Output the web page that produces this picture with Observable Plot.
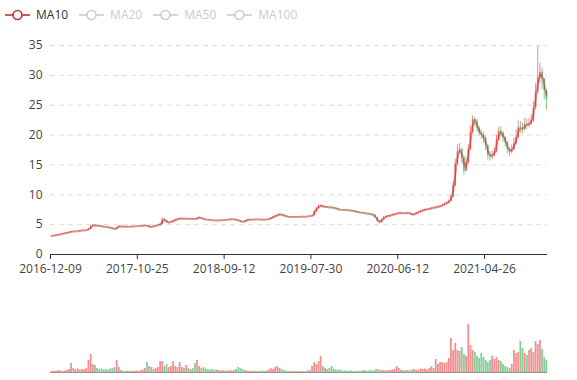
<!DOCTYPE html>
<html><head><meta charset="utf-8">
<script src="https://cdn.jsdelivr.net/npm/d3@7"></script>
<script src="https://cdn.jsdelivr.net/npm/@observablehq/plot@0.6"></script>
<style>
body{margin:0;background:#fff;font-family:"Open Sans",sans-serif;}
#wrap{position:relative;width:577px;height:380px;overflow:hidden;background:#fff}
#legend{position:absolute;left:5px;top:6px;height:18px;display:flex;gap:11px;font-size:12px;line-height:18px}
.item{display:flex;align-items:center;gap:6px}
#price{position:absolute;left:0;top:30px}
#vol{position:absolute;left:0;top:290px}
</style></head><body>
<div id="wrap"><div id="legend"></div><div id="price"></div><div id="vol"></div></div>
<script>
// ---- data (one entry ≈ one trading week) ----
const tickLabels = ["2016-12-09","2017-10-25","2018-09-12","2019-07-30","2020-06-12","2021-04-26"];
const tickEvery = 40;
const legendNames = ["MA10","MA20","MA50","MA100"];
const legendActive = [true,false,false,false];
const firstOpen = 3.05;
const closes = [
3.10,3.18,3.25,3.32,3.40,3.50,3.55,3.62,3.72,3.80,3.86,3.88,3.92,3.98,4.02,4.05,4.10,
4.25,4.70,4.90,4.82,4.80,4.75,4.70,4.62,4.58,4.52,4.45,4.30,4.25,4.55,4.72,4.68,4.65,4.62,4.66,4.64,4.68,4.70,4.72,4.75,4.78,4.80,4.85,
4.78,4.55,4.62,4.75,4.85,4.92,5.05,5.90,5.70,5.30,5.35,5.50,5.65,5.80,5.92,6.00,6.02,5.98,6.00,5.95,5.98,5.92,5.90,
6.05,6.20,6.00,5.88,5.82,5.78,5.75,5.70,5.68,5.70,5.72,5.75,5.74,5.78,5.82,5.88,5.90,5.85,5.78,5.65,5.50,5.45,5.60,5.78,5.85,5.82,5.86,5.84,5.88,5.85,5.82,5.86,5.85,
5.95,6.10,6.30,6.45,6.60,6.72,6.60,6.45,6.35,6.28,6.25,6.28,6.30,6.28,6.30,6.32,6.35,6.33,6.38,6.40,
6.50,7.20,7.70,8.10,8.15,7.95,7.98,7.90,7.88,7.85,7.75,7.65,7.52,7.48,7.45,7.42,7.40,7.38,7.30,7.25,7.15,7.05,7.00,6.95,6.90,6.85,6.78,6.72,6.60,6.20,5.60,5.35,
5.80,6.20,6.35,6.45,6.55,6.65,6.75,6.85,6.95,6.92,6.88,6.90,6.95,6.85,6.60,6.75,6.95,7.10,7.25,7.40,7.50,7.55,7.65,7.75,7.82,7.90,8.00,8.10,8.25,8.45,8.65,8.90,
9.60,11.50,15.20,17.20,17.60,16.20,14.00,15.40,17.60,20.50,22.60,22.30,21.20,20.30,20.00,19.40,18.20,16.60,16.50,16.60,17.20,19.20,20.60,20.30,19.60,18.80,17.60,17.20,17.60,18.50,19.60,21.20,21.10,21.00,21.80,21.70,21.90,22.40,24.50,27.20,29.60,30.50,29.40,27.50,26.00];
const highs = [
3.15,3.24,3.30,3.38,3.46,3.56,3.60,3.68,3.78,3.88,3.92,3.94,3.98,4.04,4.08,4.12,4.16,
4.32,4.80,5.02,4.95,4.88,4.84,4.78,4.72,4.66,4.62,4.56,4.48,4.36,4.62,4.82,4.78,4.72,4.70,4.72,4.70,4.74,4.76,4.78,4.82,4.84,4.87,4.95,
4.92,4.80,4.68,4.82,4.92,4.98,5.15,6.10,6.05,5.75,5.45,5.58,5.72,5.88,6.02,6.08,6.10,6.06,6.08,6.04,6.05,6.00,5.98,
6.12,6.35,6.22,6.05,5.92,5.86,5.82,5.78,5.75,5.76,5.78,5.80,5.80,5.84,5.88,5.94,5.96,5.92,5.86,5.80,5.68,5.55,5.66,5.84,5.92,5.90,5.92,5.90,5.94,5.92,5.90,5.92,5.92,
6.02,6.18,6.38,6.55,6.70,6.85,6.78,6.62,6.48,6.38,6.32,6.34,6.36,6.35,6.36,6.38,6.42,6.40,6.44,6.48,
6.58,7.35,7.90,8.30,8.35,8.20,8.10,8.02,7.98,7.95,7.88,7.78,7.66,7.58,7.54,7.50,7.48,7.46,7.42,7.36,7.30,7.20,7.10,7.05,7.00,6.96,6.90,6.84,6.78,6.65,6.25,5.70,
5.95,6.35,6.48,6.55,6.64,6.75,6.84,6.95,7.08,7.05,6.98,6.98,7.04,7.00,6.88,6.85,7.05,7.22,7.38,7.52,7.64,7.68,7.78,7.88,7.95,8.02,8.12,8.24,8.40,8.60,8.82,9.10,
9.90,12.20,16.00,18.40,18.60,17.80,16.60,16.20,18.40,21.50,23.20,23.00,22.60,21.40,20.90,20.50,19.80,18.40,17.20,17.30,17.90,20.00,21.30,21.40,20.60,19.70,18.90,17.90,18.30,19.40,20.90,22.40,22.30,22.00,22.80,22.60,22.80,23.40,25.60,28.60,34.80,32.00,31.20,29.00,27.40];
const lows = [
3.02,3.08,3.15,3.22,3.29,3.37,3.47,3.52,3.58,3.68,3.76,3.82,3.84,3.88,3.94,3.98,4.01,
4.06,4.20,4.62,4.74,4.72,4.68,4.62,4.56,4.50,4.45,4.38,4.20,4.15,4.22,4.50,4.60,4.58,4.55,4.58,4.58,4.60,4.64,4.66,4.68,4.70,4.73,4.76,
4.70,4.48,4.50,4.58,4.70,4.80,4.88,5.00,5.55,5.20,5.22,5.30,5.45,5.60,5.75,5.88,5.94,5.90,5.92,5.88,5.90,5.85,5.82,
5.85,6.00,5.95,5.82,5.76,5.72,5.70,5.64,5.62,5.64,5.66,5.68,5.68,5.70,5.74,5.80,5.84,5.78,5.70,5.55,5.42,5.38,5.40,5.55,5.74,5.76,5.78,5.78,5.80,5.80,5.76,5.78,5.79,
5.80,5.90,6.05,6.25,6.40,6.55,6.52,6.40,6.30,6.22,6.18,6.20,6.23,6.22,6.24,6.26,6.28,6.27,6.30,6.33,
6.35,6.45,7.12,7.62,7.95,7.85,7.88,7.82,7.80,7.76,7.68,7.58,7.45,7.40,7.38,7.35,7.32,7.30,7.22,7.18,7.08,6.98,6.92,6.88,6.83,6.78,6.70,6.64,6.52,6.10,5.45,5.15,
5.28,5.75,6.12,6.28,6.38,6.48,6.58,6.68,6.78,6.82,6.80,6.80,6.84,6.76,6.50,6.55,6.70,6.88,7.02,7.18,7.32,7.42,7.48,7.58,7.68,7.76,7.84,7.94,8.04,8.18,8.38,8.55,
8.80,9.50,11.30,15.00,16.80,15.20,13.20,13.80,15.10,17.40,20.20,21.40,20.60,19.70,19.30,18.60,17.40,15.80,15.60,15.90,16.30,17.00,19.00,19.60,18.80,18.00,16.90,16.40,16.80,17.40,18.30,19.30,20.30,20.20,20.70,20.90,21.20,21.60,22.10,24.30,26.90,28.60,27.60,25.80,24.20];
const volumes = [
1,1.5,1,2,1.5,1,1.5,2,3,9,
4,3,3.5,2.5,3,3,4,12,18,8,
7,4,3,3.5,2.5,3,2,3.5,4,5,
12,5,2,1.5,1,1.5,1,1.2,1,1.5,
1,2,2.5,4,10,6,5,3,4,5,
11,11,6,8,5,6,11,6,5,10,
5,4,7,4,3,4,9,12,6,4,
5,3.5,3,2.5,3,2,2.5,2,1.5,2,
1.5,1.5,2,1.5,2,3,5,4,3,2,
1.5,1,1,1.5,1,1,1,1.5,1,1.5,
2.5,4,3,5,6,4,3,2,1.5,1,
1,1,1.2,1,1,1,1,1,1.5,2,
6,10,8,11,16,6,4,3,4,6,
3,2.5,2,2.5,1.5,1.5,1.5,1,1.5,1,
1,1.5,1,1.5,2,1.5,1.5,2,1.5,2.5,
3,2.5,2,2,1.5,2,2,2.5,3,6,
4,2.5,2,1.5,2,2,2.5,3,2,2.5,
3.5,3,3.5,2.5,4,6,4,13,8,10,
10,9,10,14,34,22,29,22,21,25,
18,16,48,27,22,20,16,14,19,15,
12,10,12,16,13,15,12,11,8,6,
5,4,8,22,19,20,31,24,19,17,
22,24,20,31,28,32,23,15,12];

// ---- styles ----
const UP = "#eb5454", DOWN = "#47b262", MA = "#c23531", INACTIVE = "#ccc";
const n = closes.length;
const rows = closes.map((c, i) => {
  const open = i ? closes[i - 1] : firstOpen;
  return {i, open, close: c,
    high: Math.max(highs[i], open, c), low: Math.min(lows[i], open, c),
    vol: volumes[i], up: c >= open};
});
const xDomain = [-0.5, n - 0.5];
const tickPos = tickLabels.map((_, k) => k * tickEvery - 0.5);

// legend
const leg = document.getElementById("legend");
legendNames.forEach((name, k) => {
  const col = legendActive[k] ? MA : INACTIVE;
  const it = document.createElement("div");
  it.className = "item";
  it.innerHTML = `<svg width="25" height="14"><line x1="0" x2="25" y1="7" y2="7" stroke="${col}" stroke-width="1.6"/><circle cx="12.5" cy="7" r="4.5" fill="#fff" stroke="${col}" stroke-width="1.6"/></svg><span style="color:${legendActive[k] ? "#333" : INACTIVE}">${name}</span>`;
  leg.appendChild(it);
});

const price = Plot.plot({
  width: 577, height: 250,
  marginLeft: 50, marginRight: 30, marginTop: 15, marginBottom: 26,
  style: {fontFamily: "'Open Sans', sans-serif", fontSize: "12px", color: "#444", background: "transparent"},
  x: {domain: xDomain, axis: null},
  y: {domain: [0, 35], axis: null},
  marks: [
    Plot.ruleY(d3.range(5, 36, 5), {stroke: "#dcdcdc", strokeDasharray: "5,4"}),
    Plot.axisY(d3.range(0, 36, 5), {tickSize: 0, tickPadding: 8, label: null}),
    Plot.axisX(tickPos, {tickSize: 5, tickPadding: 5, label: null, stroke: "#333",
      tickFormat: (d) => tickLabels[Math.round((d + 0.5) / tickEvery)]}),
    Plot.ruleY([0], {stroke: "#333"}),
    Plot.ruleX(rows, {x: "i", y1: "low", y2: "high", stroke: d => d.up ? UP : DOWN, strokeWidth: 0.8, strokeOpacity: 0.85}),
    Plot.ruleX(rows, {x: "i", y1: "open", y2: "close", stroke: d => d.up ? UP : DOWN, strokeWidth: 1.6, strokeOpacity: 0.85}),
    Plot.lineY(rows, Plot.windowY({k: 2, anchor: "end", reduce: "mean"}, {x: "i", y: "close", stroke: MA, strokeWidth: 2, strokeOpacity: 0.5}))
  ]
});
document.getElementById("price").appendChild(price);

const vol = Plot.plot({
  width: 577, height: 90,
  marginLeft: 50, marginRight: 30, marginTop: 12, marginBottom: 8,
  style: {background: "transparent"},
  x: {domain: xDomain, axis: null},
  y: {domain: [0, 70], axis: null},
  marks: [
    Plot.ruleX(rows, {x: "i", y1: 0, y2: "vol", stroke: d => d.up ? UP : DOWN, strokeWidth: 1.8, strokeOpacity: 0.65}),
    Plot.ruleY([0], {stroke: "#666", strokeOpacity: 0.7})
  ]
});
document.getElementById("vol").appendChild(vol);
</script>
</body></html>
